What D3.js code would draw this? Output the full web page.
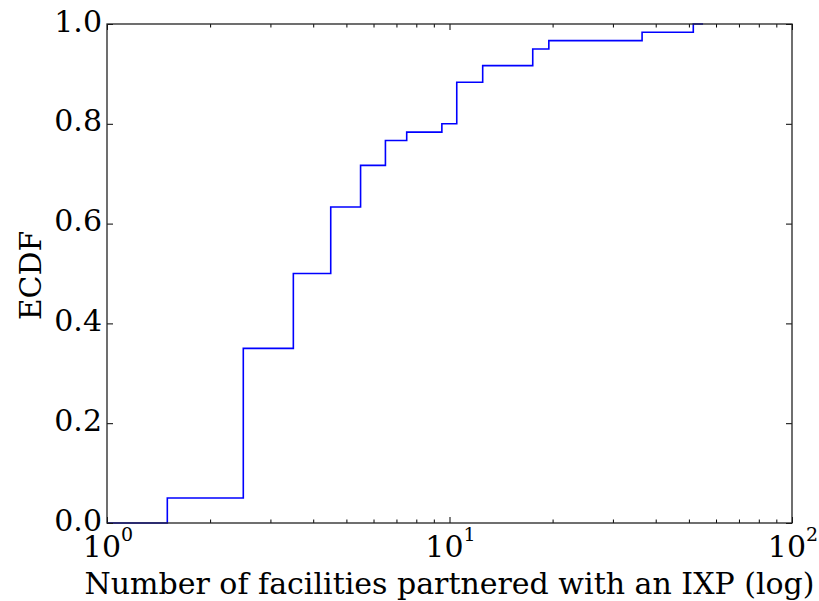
<!DOCTYPE html>
<html>
<head>
<meta charset="utf-8">
<script src="https://cdn.jsdelivr.net/npm/d3@7/dist/d3.min.js"></script>
<style>
  body { margin: 0; background: #fff; }
  text { font-family: "DejaVu Serif", serif; fill: #000; }
</style>
</head>
<body>
<svg id="chart" width="819" height="601"></svg>
<script>
// ECDF of facilities per IXP: x where each step begins, and the cumulative share from there on
const stepStarts = [1, 1.5, 2.5, 3.5, 4.5, 5.5, 6.5, 7.5, 9.5, 10.5, 12.5, 17.5, 19.5, 36.5, 51.5];
const ecdfValues = [0, 3/60, 21/60, 30/60, 38/60, 43/60, 46/60, 47/60, 48/60, 53/60, 55/60, 57/60, 58/60, 59/60, 1];
const lastX = 55;

const xDecades = [1, 10, 100];
const xExponents = ["0", "1", "2"];
const yTicks = [0, 0.2, 0.4, 0.6, 0.8, 1.0];
const xTitle = "Number of facilities partnered with an IXP (log)";
const yTitle = "ECDF";

const margin = { left: 107, top: 24 };
const width = 685, height = 499;
const fontSize = 30;

const svg = d3.select("#chart");
const g = svg.append("g").attr("transform", `translate(${margin.left},${margin.top})`);

const x = d3.scaleLog().domain([1, 100]).range([0, width]);
const y = d3.scaleLinear().domain([0, 1]).range([height, 0]);

// step line
const pts = stepStarts.map((s, i) => [s, ecdfValues[i]]);
pts.push([lastX, ecdfValues[ecdfValues.length - 1]]);
const line = d3.line()
  .x(d => x(d[0]))
  .y(d => y(d[1]))
  .curve(d3.curveStepAfter);
g.append("path")
  .datum(pts)
  .attr("fill", "none")
  .attr("stroke", "#0000ff")
  .attr("stroke-width", 1.6)
  .attr("d", line);

// inward ticks on all four sides
const minor = x.ticks().filter(v => !xDecades.includes(v));
function styleAxis(sel) {
  sel.select(".domain").remove();
  sel.selectAll(".tick line").attr("stroke", "#000").attr("stroke-width", 1);
  sel.selectAll(".tick text").remove();
}
g.append("g").attr("transform", `translate(0,${height})`)
  .call(d3.axisBottom(x).tickValues(xDecades).tickSize(-6)).call(styleAxis);
g.append("g").attr("transform", `translate(0,${height})`)
  .call(d3.axisBottom(x).tickValues(minor).tickSize(-3.5)).call(styleAxis);
g.append("g")
  .call(d3.axisTop(x).tickValues(xDecades).tickSize(-6)).call(styleAxis);
g.append("g")
  .call(d3.axisTop(x).tickValues(minor).tickSize(-3.5)).call(styleAxis);
g.append("g")
  .call(d3.axisLeft(y).tickValues(yTicks).tickSize(-6)).call(styleAxis);
g.append("g").attr("transform", `translate(${width},0)`)
  .call(d3.axisRight(y).tickValues(yTicks).tickSize(-6)).call(styleAxis);

// frame
g.append("rect")
  .attr("width", width).attr("height", height)
  .attr("fill", "none").attr("stroke", "#222").attr("stroke-width", 1.3);

// y tick labels
g.selectAll(".ylab").data(yTicks).join("text")
  .attr("x", -5)
  .attr("y", d => y(d))
  .attr("dy", "0.25em")
  .attr("text-anchor", "end")
  .attr("font-size", fontSize)
  .text(d => d.toFixed(1));

// x tick labels as powers of ten
const xl = g.selectAll(".xlab").data(xDecades).join("text")
  .attr("x", d => x(d) + 1)
  .attr("y", height + 34)
  .attr("text-anchor", "middle")
  .attr("font-size", fontSize);
xl.append("tspan").text("10");
xl.append("tspan").attr("dy", -16.5).attr("font-size", 19).text((d, i) => xExponents[i]);

// axis titles
g.append("text")
  .attr("x", width / 2)
  .attr("y", height + 71)
  .attr("text-anchor", "middle")
  .attr("font-size", fontSize)
  .text(xTitle);
g.append("text")
  .attr("transform", `translate(${-margin.left + 41},${height / 2 + 2}) rotate(-90)`)
  .attr("text-anchor", "middle")
  .attr("font-size", fontSize)
  .text(yTitle);
</script>
</body>
</html>
